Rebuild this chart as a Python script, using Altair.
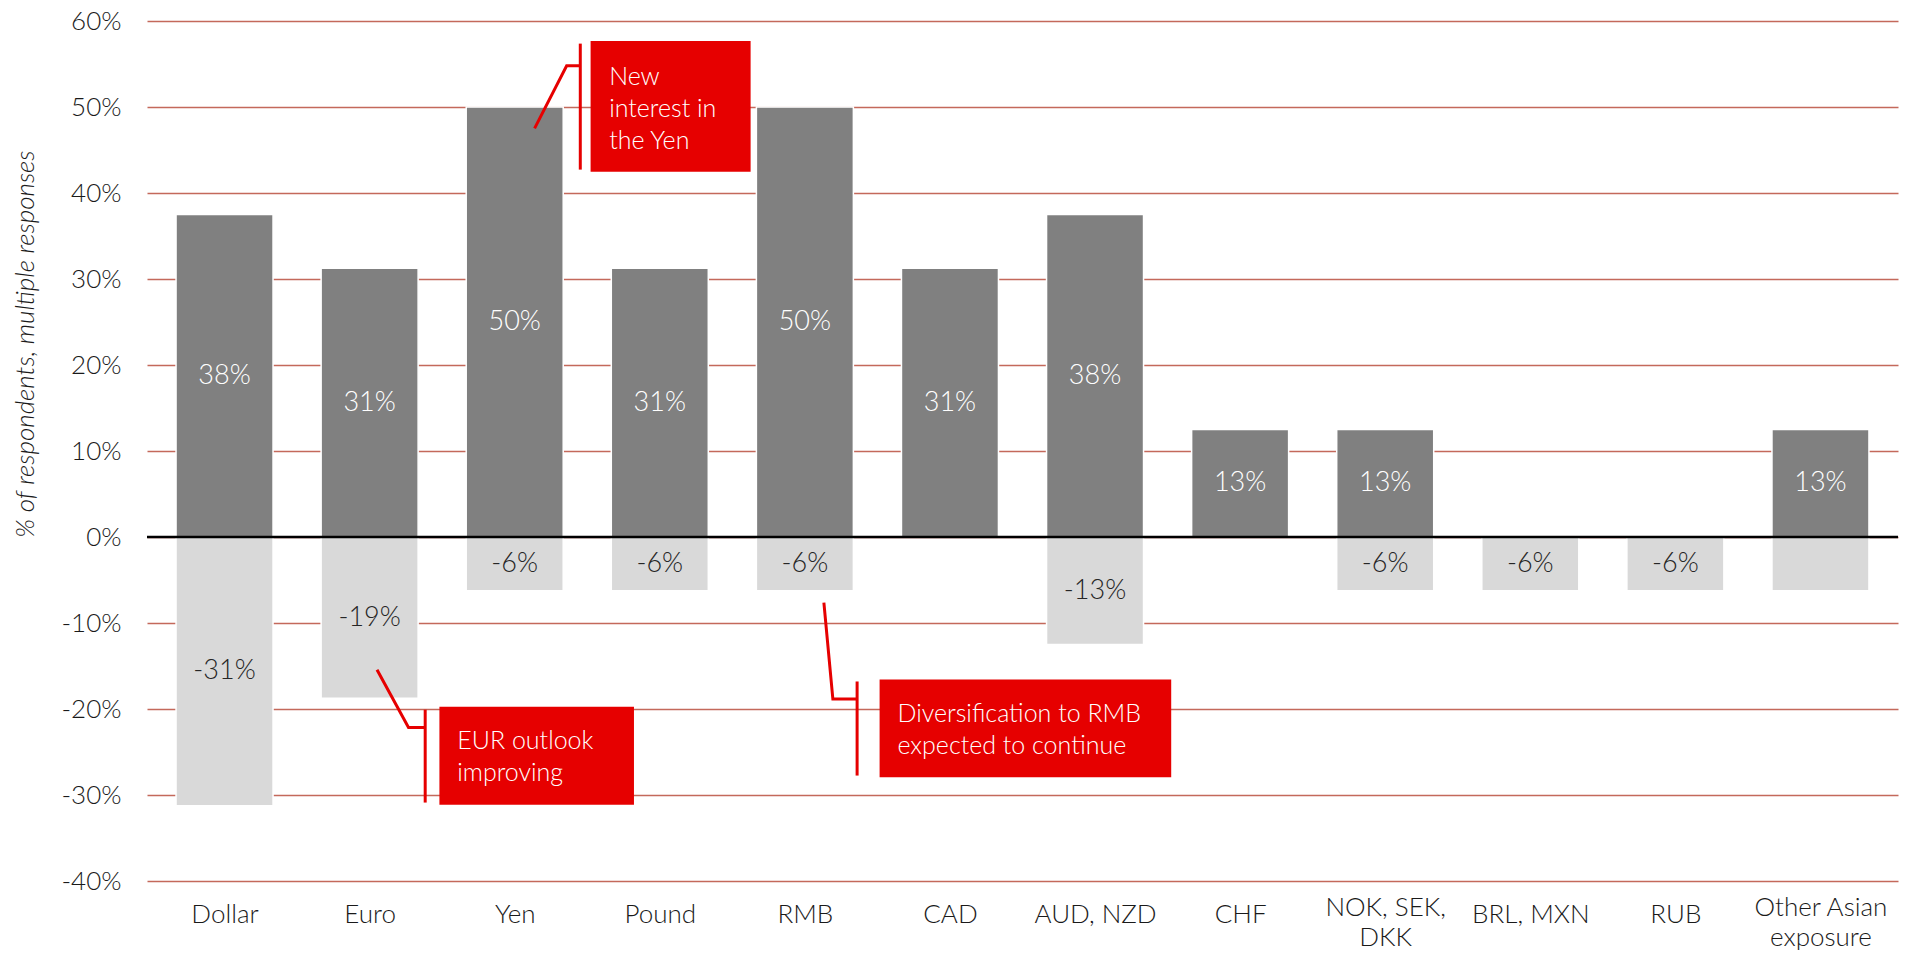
import json
import altair as alt
import pandas as pd

# ---------------- data ----------------
categories = ["Dollar", "Euro", "Yen", "Pound", "RMB", "CAD", "AUD, NZD", "CHF",
              "NOK, SEK,\nDKK", "BRL, MXN", "RUB", "Other Asian\nexposure"]
positive = [37.5, 31.25, 50, 31.25, 50, 31.25, 37.5, 12.5, 12.5, 0, 0, 12.5]
negative = [-31.25, -18.75, -6.25, -6.25, -6.25, 0, -12.5, 0, -6.25, -6.25, -6.25, -6.25]
positive_labels = ["38%", "31%", "50%", "31%", "50%", "31%", "38%", "13%", "13%", "", "", "13%"]
negative_labels = ["-31%", "-19%", "-6%", "-6%", "-6%", "", "-13%", "", "-6%", "-6%", "-6%", ""]
y_ticks = [-40, -30, -20, -10, 0, 10, 20, 30, 40, 50, 60]
annotation_texts = [["New", "interest in", "the Yen"],
                    ["EUR outlook", "improving"],
                    ["Diversification to RMB", "expected to continue"]]

# ---------------- annotation layout (data units: x = category index, y = %) ----------------
box_x = [2.523, 1.481, 4.515]
box_x2 = [3.626, 2.822, 6.525]
box_y = [57.66, -19.73, -16.56]
box_y2 = [42.48, -31.14, -27.94]
text_x = [2.651, 1.604, 4.638]
text_y = [52.58, -24.61, -21.56]
vline_x = [2.452, 1.383, 4.36]
vline_y = [57.37, -20.08, -16.80]
vline_y2 = [42.72, -30.88, -27.74]
leader_paths = [
    [(2.137, 47.51), (2.358, 54.79), (2.452, 54.79)],
    [(1.051, -15.44), (1.268, -22.14), (1.383, -22.14)],
    [(4.131, -7.63), (4.193, -18.84), (4.36, -18.84)],
]

FONT = "Lato"
FW = 300
RED = "#e60000"

rows = []
for i, c in enumerate(categories):
    rows.append(dict(i=i, value=positive[i], label=positive_labels[i], kind="pos"))
    rows.append(dict(i=i, value=negative[i], label=negative_labels[i], kind="neg"))
df = pd.DataFrame(rows)

xs = alt.Scale(domain=[-0.5, 11.5], nice=False, zero=False)
ys = alt.Scale(domain=[-40, 60], nice=False, zero=False)

label_arrays = json.dumps([c.split("\n") for c in categories])

x_axis = alt.Axis(values=list(range(len(categories))), labelExpr=f"{label_arrays}[datum.value]",
                  ticks=False, domain=False, grid=False,
                  labelPadding={"condition": {"test": f"length({label_arrays}[datum.value]) > 1",
                                              "value": 13},
                                "value": 20},
                  labelFontSize=26, labelFont=FONT, labelFontWeight=FW, labelColor="#1a1a1a",
                  labelLineHeight=30, labelOverlap=False, labelFlush=False, title=None)
y_axis = alt.Axis(values=y_ticks, labelExpr="datum.value + '%'", ticks=False, domain=False,
                  grid=True, gridColor="#c4695b", gridWidth=1.3, labelPadding=26,
                  labelFontSize=26, labelFont=FONT, labelFontWeight=FW, labelColor="#1a1a1a",
                  title="% of respondents, multiple responses", titleFont=FONT,
                  titleFontStyle="italic", titleFontWeight=FW, titleFontSize=26,
                  titleColor="#1a1a1a", titleAngle=270, titleX=-114, titleY=129,
                  titleAlign="right", titleBaseline="alphabetic")


def X(field):
    return alt.X(field, scale=xs, axis=x_axis)


def Y(field):
    return alt.Y(field, scale=ys, axis=y_axis)


bars = alt.Chart(df).transform_filter("datum.value != 0").transform_calculate(base="0").mark_bar(
    size=97, stroke="white", strokeWidth=1.5
).encode(
    x=X("i:Q"),
    y=Y("value:Q"),
    y2=alt.Y2("base:Q"),
    color=alt.Color("kind:N", scale=alt.Scale(domain=["pos", "neg"], range=["#808080", "#d9d9d9"]),
                    legend=None),
)

labels = alt.Chart(df).transform_filter("datum.label != ''").transform_calculate(
    mid="datum.value / 2", tc="datum.kind == 'pos' ? '#ffffff' : '#262626'"
).mark_text(font=FONT, fontSize=27, fontWeight=FW, baseline="middle", align="center").encode(
    x=X("i:Q"),
    y=Y("mid:Q"),
    text="label:N",
    color=alt.Color("tc:N", scale=None),
)

zero = alt.Chart(pd.DataFrame({"v": [0]})).mark_rule(color="black", strokeWidth=2.5).encode(
    y=Y("v:Q")
)

box_df = pd.DataFrame({"x": box_x, "x2": box_x2, "y": box_y, "y2": box_y2})
boxes = alt.Chart(box_df).mark_rect(color=RED).encode(
    x=X("x:Q"), x2="x2:Q",
    y=Y("y:Q"), y2="y2:Q",
)

text_df = pd.DataFrame({"x": text_x, "y": text_y, "t": annotation_texts})
texts = alt.Chart(text_df).mark_text(
    align="left", baseline="alphabetic", lineHeight=32, color="white",
    font=FONT, fontSize=25, fontWeight=FW
).encode(
    x=X("x:Q"),
    y=Y("y:Q"),
    text="t",
)

vl_df = pd.DataFrame({"x": vline_x, "y": vline_y, "y2": vline_y2})
vlines = alt.Chart(vl_df).mark_rule(color=RED, strokeWidth=3).encode(
    x=X("x:Q"),
    y=Y("y:Q"), y2="y2:Q",
)

lp = []
for k, path in enumerate(leader_paths):
    for o, (px, py) in enumerate(path):
        lp.append(dict(id=k, o=o, x=px, y=py))
leaders = alt.Chart(pd.DataFrame(lp)).mark_line(color=RED, strokeWidth=3, strokeJoin="miter").encode(
    x=X("x:Q"),
    y=Y("y:Q"),
    detail="id:N",
    order="o:Q",
)

chart = alt.layer(bars, labels, zero, leaders, vlines, boxes, texts).properties(
    width=1751, height=860,
    autosize=alt.AutoSizeParams(type="none"),
    padding={"left": 139, "top": 13, "right": 5, "bottom": 69},
    background="white",
).configure_view(stroke=None)

chart.save("out.html", embed_options={"renderer": "svg", "actions": False})
